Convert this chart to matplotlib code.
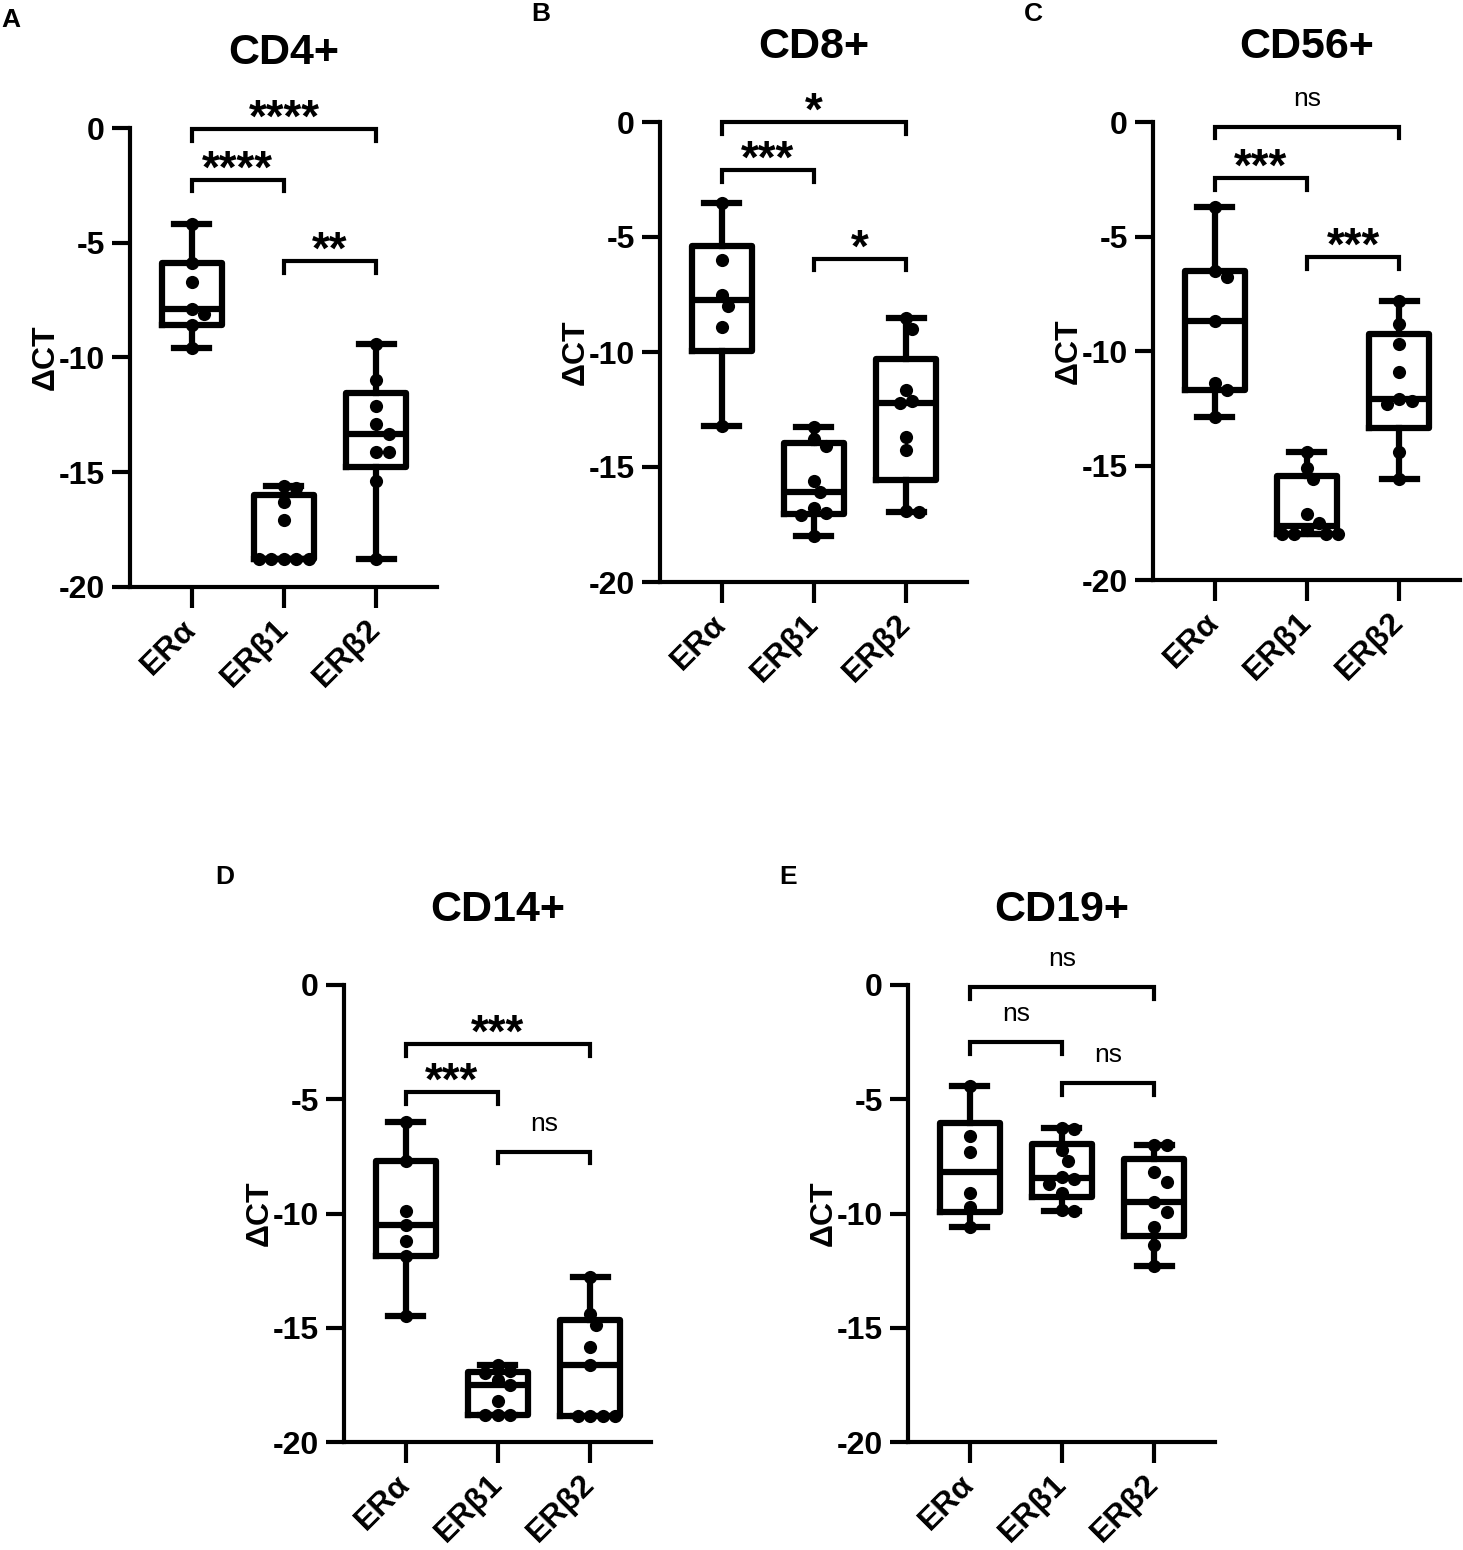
import numpy as np
import matplotlib
matplotlib.use("Agg")
import matplotlib.pyplot as plt

plt.rcParams['font.family'] = ['Liberation Sans', 'DejaVu Sans']
plt.rcParams['font.weight'] = 'bold'
plt.rcParams['axes.unicode_minus'] = False

W, H = 1463, 1550

groups = ["ERα", "ERβ1", "ERβ2"]
yticks = [0, -5, -10, -15, -20]
ytick_labels = ["0", "-5", "-10", "-15", "-20"]

# delta CT values, one list per receptor
cd4_era = [-4.2, -5.9, -6.7, -7.9, -8.1, -8.6, -9.6]
cd4_erb1 = [-15.6, -15.7, -16.3, -17.1, -18.8, -18.8, -18.8, -18.8, -18.8]
cd4_erb2 = [-9.4, -11.0, -12.1, -12.9, -13.35, -14.1, -14.1, -15.4, -18.8]

cd8_era = [-3.5, -6.0, -7.5, -8.0, -8.9, -13.2]
cd8_erb1 = [-13.25, -13.8, -14.1, -15.6, -16.1, -16.8, -17.0, -17.1, -18.0]
cd8_erb2 = [-8.5, -9.0, -11.65, -12.15, -12.2, -13.7, -14.25, -16.9, -16.95]

cd56_era = [-3.7, -6.5, -6.75, -8.7, -11.4, -11.7, -12.9]
cd56_erb1 = [-14.4, -15.1, -15.6, -17.1, -17.5, -17.8, -18.0, -18.0, -18.0, -18.0]
cd56_erb2 = [-7.8, -8.8, -9.7, -10.9, -12.1, -12.2, -12.3, -14.4, -15.6]

cd14_era = [-6.0, -7.7, -9.9, -10.5, -11.2, -11.85, -14.5]
cd14_erb1 = [-16.65, -16.9, -17.0, -17.3, -17.5, -18.2, -18.8, -18.8, -18.8]
cd14_erb2 = [-12.8, -14.4, -14.9, -15.85, -16.65, -18.85, -18.85, -18.85, -18.85]

cd19_era = [-4.4, -6.6, -7.3, -9.1, -9.7, -10.6]
cd19_erb1 = [-6.25, -6.3, -7.2, -7.7, -8.4, -8.5, -8.7, -9.1, -9.85, -9.9]
cd19_erb2 = [-7.0, -7.0, -8.2, -8.6, -9.5, -9.95, -10.6, -11.4, -12.3]

# significance brackets: (group i, group j, height, label)
sig_cd4 = [(0, 1, -2.25, "****"), (0, 2, -0.05, "****"), (1, 2, -5.8, "**")]
sig_cd8 = [(0, 1, -2.1, "***"), (0, 2, 0.0, "*"), (1, 2, -5.95, "*")]
sig_cd56 = [(0, 1, -2.45, "***"), (0, 2, -0.2, "ns"), (1, 2, -5.9, "***")]
sig_cd14 = [(0, 1, -4.7, "***"), (0, 2, -2.6, "***"), (1, 2, -7.3, "ns")]
sig_cd19 = [(0, 1, -2.5, "ns"), (0, 2, -0.1, "ns"), (1, 2, -4.3, "ns")]


def swarm(vals, px_y=23.0, px_x=92.0, d=12.5):
    # simple beeswarm: spread dots sideways so they do not overlap
    order = np.argsort(vals)[::-1]
    offs = np.zeros(len(vals))
    placed = []
    for i in order:
        y = vals[i] * px_y
        for k in [0, 1, -1, 2, -2, 3, -3, 4, -4, 5, -5]:
            x = k * d * 0.5
            if all((x - px) ** 2 + (y - py) ** 2 >= d ** 2 for px, py in placed):
                break
        placed.append((x, y))
        offs[i] = x / px_x
    return offs


def panel(rect, title, letter, data, sigs):
    l, r, t, b = rect
    ax = fig.add_axes([l / W, 1 - b / H, (r - l) / W, (b - t) / H])
    stats = []
    for name, v in zip(groups, data):
        q1, med, q3 = np.percentile(v, [25, 50, 75], method='weibull')
        stats.append(dict(label=name, q1=q1, med=med, q3=q3,
                          whislo=min(v), whishi=max(v), fliers=[]))
    lw = 4.5
    ax.bxp(stats, positions=range(3), widths=0.65, capwidths=0.38,
           showfliers=False,
           boxprops=dict(color='black', linewidth=lw),
           whiskerprops=dict(color='black', linewidth=lw),
           capprops=dict(color='black', linewidth=lw),
           medianprops=dict(color='black', linewidth=lw))
    for i, v in enumerate(data):
        v = np.array(v)
        ax.scatter(i + swarm(v), v, s=90, color='black', zorder=3,
                   linewidths=0, clip_on=False)

    for i, j, y, lab in sigs:
        ax.plot([i, i, j, j], [y - 0.5, y, y, y - 0.5], color='black',
                lw=3, clip_on=False, solid_joinstyle='miter')
        if lab == "ns":
            ax.annotate(lab, xy=((i + j) / 2, y), xytext=(0, 15),
                        textcoords='offset points', ha='center',
                        va='baseline', fontsize=19, fontweight='normal')
        else:
            ax.annotate(lab, xy=((i + j) / 2, y), xytext=(0, -2),
                        textcoords='offset points', ha='center',
                        va='baseline', fontsize=33, fontweight='bold')

    ax.set_xlim(-0.67, 2.66)
    ax.set_ylim(-20, 0)
    ax.set_yticks(yticks, labels=ytick_labels)
    ax.set_xticks(range(3), labels=groups)
    for lab in ax.get_xticklabels():
        lab.set_rotation(45)
        lab.set_ha('right')
        lab.set_va('center')
        lab.set_rotation_mode('anchor')
    ax.tick_params(width=3, length=13, labelsize=23, pad=5)
    ax.tick_params(axis='x', length=15, pad=12)
    for s in ['top', 'right']:
        ax.spines[s].set_visible(False)
    for s in ['left', 'bottom']:
        ax.spines[s].set_linewidth(3)
    ax.set_ylabel("ΔCT", fontsize=23, fontweight='bold')
    ax.yaxis.set_label_coords(-0.225, 0.5)
    ax.annotate(title, xy=(0.5, 1), xycoords='axes fraction',
                xytext=(0, 54), textcoords='offset points',
                ha='center', va='center', fontsize=31, fontweight='bold')
    ax.annotate(letter, xy=(0, 1), xycoords='axes fraction',
                xytext=(-86, 78), textcoords='offset points',
                ha='center', va='center', fontsize=19, fontweight='bold')
    return ax


fig = plt.figure(figsize=(W / 100, H / 100), dpi=100)

panel((130, 437, 128, 587), "CD4+", "A", [cd4_era, cd4_erb1, cd4_erb2], sig_cd4)
panel((660, 967, 122, 582), "CD8+", "B", [cd8_era, cd8_erb1, cd8_erb2], sig_cd8)
panel((1153, 1460, 122, 580), "CD56+", "C", [cd56_era, cd56_erb1, cd56_erb2], sig_cd56)
panel((344, 651, 985, 1442), "CD14+", "D", [cd14_era, cd14_erb1, cd14_erb2], sig_cd14)
panel((908, 1215, 985, 1442), "CD19+", "E", [cd19_era, cd19_erb1, cd19_erb2], sig_cd19)

fig.savefig("out.png", dpi=100)
